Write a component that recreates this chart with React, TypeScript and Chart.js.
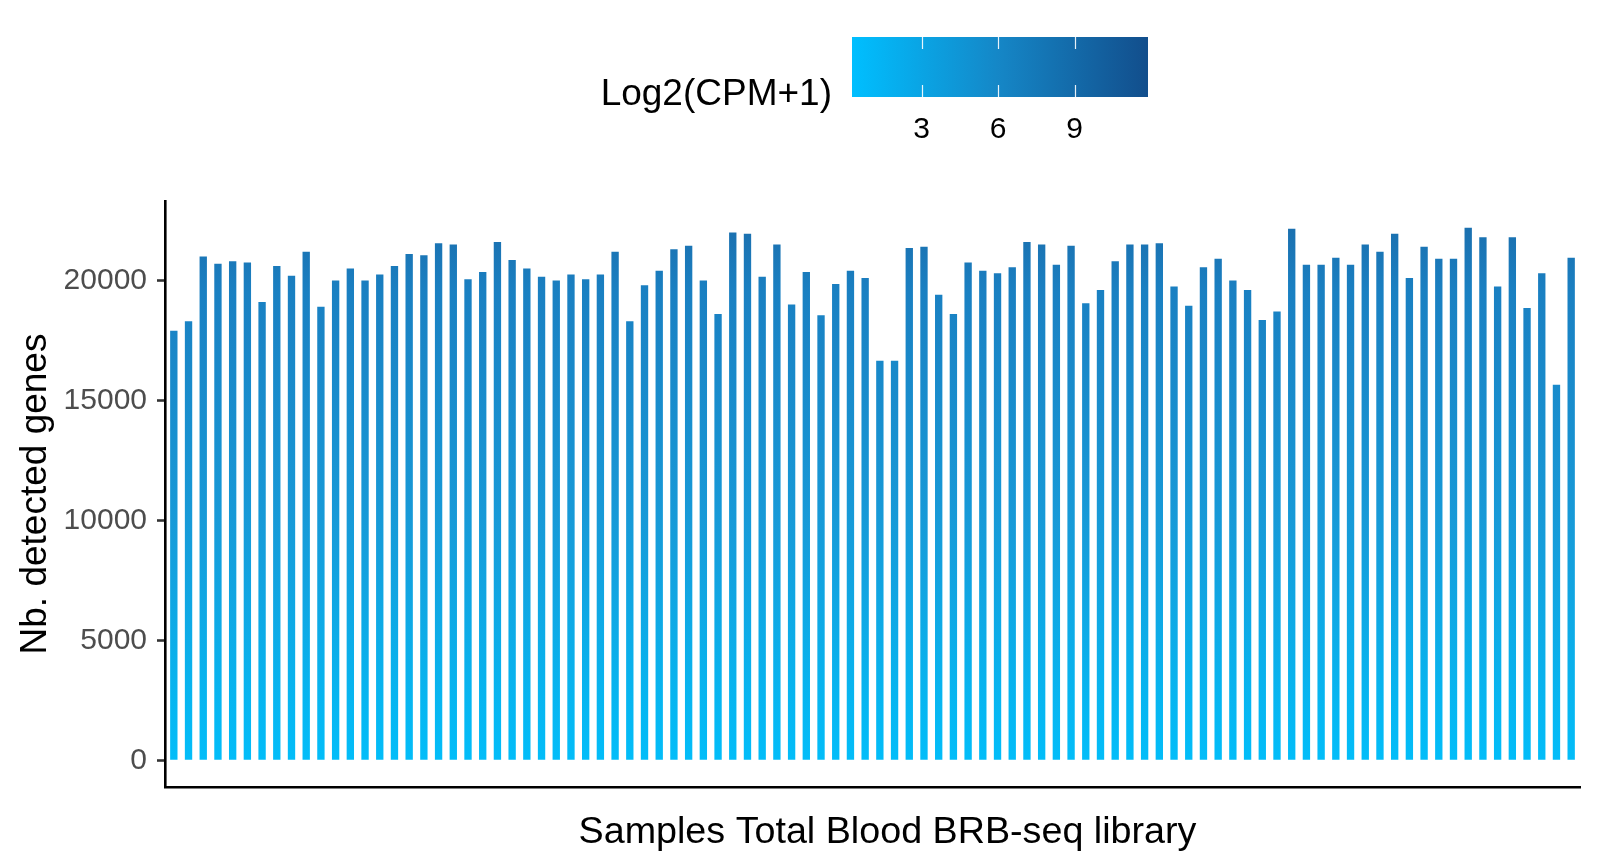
import React, { useEffect, useRef } from "react";
import { Chart, registerables } from "chart.js";

Chart.register(...registerables);

const detectedGenes: number[] = [
  17900, 18300, 21000, 20700, 20800, 20750, 19100, 20600, 20200, 21200,
  18900, 20000, 20500, 20000, 20250, 20600, 21100, 21050, 21550, 21500,
  20050, 20350, 21600, 20850, 20500, 20150, 20000, 20250, 20050, 20250,
  21200, 18300, 19800, 20400, 21300, 21450, 20000, 18600, 22000, 21950,
  20150, 21500, 19000, 20350, 18550, 19850, 20400, 20100, 16650, 16650,
  21350, 21400, 19400, 18600, 20750, 20400, 20300, 20550, 21600, 21500,
  20650, 21450, 19050, 19600, 20800, 21500, 21500, 21550, 19750, 18950,
  20550, 20900, 20000, 19600, 18350, 18700, 22150, 20650, 20650, 20950,
  20650, 21500, 21200, 21950, 20100, 21400, 20900, 20900, 22200, 21800,
  19750, 21800, 18850, 20300, 15650, 20950,
];
const sampleIndex: number[] = detectedGenes.map((_, i) => i);
const yTicks: number[] = [0, 5000, 10000, 15000, 20000];
const legendTicks: number[] = [3, 6, 9];
const legendRange: number[] = [0.27, 11.88];
const legendTitle = "Log2(CPM+1)";
const xTitle = "Samples Total Blood BRB-seq library";
const yTitle = "Nb. detected genes";

const FONT = "'Liberation Sans', Arial, Helvetica, sans-serif";

const annotations = {
  id: "annotations",
  afterDraw(chart: any) {
    const ctx = chart.ctx as CanvasRenderingContext2D;
    const area = chart.chartArea;
    ctx.save();
    // axis titles
    ctx.fillStyle = "#000000";
    ctx.font = `37.7px ${FONT}`;
    ctx.textAlign = "center";
    ctx.textBaseline = "middle";
    ctx.fillText(xTitle, (area.left + area.right) / 2 + 15, 833);
    ctx.font = `37px ${FONT}`;
    ctx.save();
    ctx.translate(36, (area.top + area.bottom) / 2);
    ctx.rotate(-Math.PI / 2);
    ctx.fillText(yTitle, 0, 0);
    ctx.restore();

    // colour bar legend
    const bx = 852, by = 37, bw = 296, bh = 60;
    const g = ctx.createLinearGradient(bx, 0, bx + bw, 0);
    g.addColorStop(0, "#00BFFF");
    g.addColorStop(0.5, "#1586C6");
    g.addColorStop(1, "#124E8C");
    ctx.fillStyle = g;
    ctx.fillRect(bx, by, bw, bh);
    const toX = (v: number) =>
      bx + ((v - legendRange[0]) / (legendRange[1] - legendRange[0])) * bw;
    ctx.strokeStyle = "rgba(255,255,255,0.9)";
    ctx.lineWidth = 1.2;
    ctx.font = `30px ${FONT}`;
    ctx.textAlign = "center";
    ctx.textBaseline = "middle";
    legendTicks.forEach((t) => {
      const x = Math.round(toX(t)) + 0.5;
      ctx.beginPath();
      ctx.moveTo(x, by);
      ctx.lineTo(x, by + 12);
      ctx.moveTo(x, by + bh - 12);
      ctx.lineTo(x, by + bh);
      ctx.stroke();
      ctx.fillStyle = "#000000";
      ctx.fillText(String(t), toX(t), 130);
    });
    ctx.font = `37px ${FONT}`;
    ctx.textAlign = "right";
    ctx.fillStyle = "#000000";
    ctx.fillText(legendTitle, 832, 95);
    ctx.restore();
  },
};

export default function App() {
  const canvasRef = useRef<HTMLCanvasElement | null>(null);

  useEffect(() => {
    if (!canvasRef.current) return;
    let cached: any = null;
    let cachedKey = "";
    const barFill = (c: any) => {
      const chart = c.chart;
      const area = chart.chartArea;
      if (!area) return "#1a9ad8";
      const y = chart.scales.y;
      const y0 = y.getPixelForValue(0);
      const y1 = y.getPixelForValue(22200);
      const key = `${y0}-${y1}`;
      if (cached && key === cachedKey) return cached;
      const g = chart.ctx.createLinearGradient(0, y0, 0, y1);
      g.addColorStop(0, "#02BDF9");
      g.addColorStop(0.12, "#07B5F0");
      g.addColorStop(0.45, "#179AD8");
      g.addColorStop(0.88, "#1A80C2");
      g.addColorStop(1, "#1B70AF");
      cached = g;
      cachedKey = key;
      return g;
    };

    const chart = new Chart(canvasRef.current, {
      type: "bar",
      data: {
        datasets: [
          {
            data: sampleIndex.map((i) => ({ x: i, y: detectedGenes[i] })),
            backgroundColor: barFill,
            borderWidth: 0,
            barPercentage: 0.5,
            categoryPercentage: 1,
          },
        ],
      },
      options: {
        animation: false,
        responsive: false,
        layout: { padding: { left: 0, right: 20, top: 201, bottom: 0 } },
        plugins: { legend: { display: false }, tooltip: { enabled: false } },
        scales: {
          x: {
            type: "linear",
            min: -0.6,
            max: 95.6,
            offset: false,
            ticks: { display: false },
            grid: { display: false },
            border: { display: true, color: "#000000", width: 2.6 },
            afterFit: (s: any) => {
              s.height = 74;
            },
          },
          y: {
            min: -1110,
            max: 23310,
            afterBuildTicks: (s: any) => {
              s.ticks = yTicks.map((v) => ({ value: v }));
            },
            ticks: {
              color: "#4D4D4D",
              font: { family: FONT, size: 30 },
              padding: 10,
              callback: (v: any) => String(v),
            },
            grid: {
              drawOnChartArea: false,
              drawTicks: true,
              tickLength: 8,
              tickWidth: 2.6,
              tickColor: "#333333",
            },
            border: { display: true, color: "#000000", width: 2.6 },
            afterFit: (s: any) => {
              s.width = 165;
            },
          },
        },
      },
      plugins: [annotations],
    });
    return () => chart.destroy();
  }, []);

  return (
    <div style={{ position: "fixed", left: 0, top: 0, width: 1600, height: 861, background: "#ffffff" }}>
      <canvas ref={canvasRef} width={1600} height={861} style={{ display: "block", width: 1600, height: 861 }} />
    </div>
  );
}
